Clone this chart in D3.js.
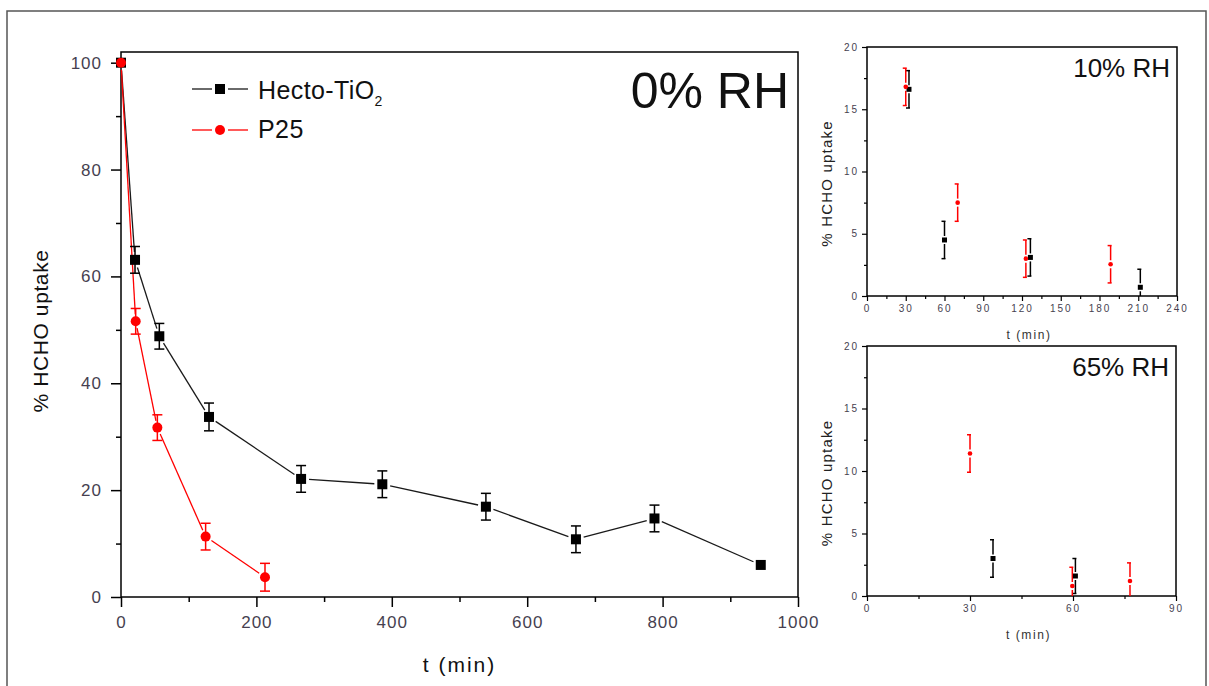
<!DOCTYPE html>
<html>
<head>
<meta charset="utf-8">
<script src="https://cdn.jsdelivr.net/npm/d3@7"></script>
<style>
  html, body { margin: 0; padding: 0; background: #fff; }
  svg { display: block; font-family: "Liberation Sans", Arial, sans-serif; }
</style>
</head>
<body>
<svg id="chart" width="1209" height="686"></svg>
<script>
// ---------- DATA ----------
// Main panel (0% RH)
const hectoX   = [0, 20.7, 56.6, 130, 266, 386, 539, 672, 788, 945];
const hectoY   = [100, 63.1, 48.8, 33.7, 22.1, 21.1, 16.9, 10.8, 14.7, 6.0];
const hectoErr = [0, 2.5, 2.4, 2.6, 2.5, 2.5, 2.5, 2.5, 2.5, 0];
const p25X     = [0, 21.7, 53.7, 125, 212.7];
const p25Y     = [100, 51.6, 31.7, 11.3, 3.7];
const p25Err   = [0, 2.4, 2.4, 2.5, 2.6];
const mainXTicks = [0, 200, 400, 600, 800, 1000];
const mainYTicks = [0, 20, 40, 60, 80, 100];

// Inset 10% RH
const h10X = [32.5, 60, 126.5, 211.6];
const h10Y = [16.6, 4.5, 3.1, 0.7];
const h10E = [1.5, 1.5, 1.5, 1.45];
const p10X = [30, 70.2, 123, 188.6];
const p10Y = [16.8, 7.5, 3.0, 2.55];
const p10E = [1.5, 1.5, 1.5, 1.5];
const in10XTicks = [0, 30, 60, 90, 120, 150, 180, 210, 240];

// Inset 65% RH
const h65X = [36.7, 60.7];
const h65Y = [3.0, 1.6];
const h65E = [1.5, 1.4];
const p65X = [30, 59.8, 76.6];
const p65Y = [11.4, 0.8, 1.2];
const p65E = [1.5, 1.5, 1.45];
const in65XTicks = [0, 30, 60, 90];
const insetYTicks = [0, 5, 10, 15, 20];

const RED = "#ff0000", BLACK = "#000000", TICKCOL = "#463f50";

const svg = d3.select("#chart");

// outer frame
svg.append("rect").attr("x", 7).attr("y", 11).attr("width", 1199).attr("height", 690)
  .attr("fill", "none").attr("stroke", "#555").attr("stroke-width", 1.5);

function zip(xs, ys, es) { return xs.map((x, i) => ({x, y: ys[i], e: es ? es[i] : 0})); }

function gapLines(g, pts, x, y, color, gap, width) {
  for (let i = 0; i < pts.length - 1; i++) {
    const x1 = x(pts[i].x), y1 = y(pts[i].y), x2 = x(pts[i+1].x), y2 = y(pts[i+1].y);
    const dx = x2 - x1, dy = y2 - y1, L = Math.hypot(dx, dy);
    const gg = Math.min(gap, L / 2.5);
    const ux = dx / L, uy = dy / L;
    g.append("line")
      .attr("x1", x1 + ux * gg).attr("y1", y1 + uy * gg)
      .attr("x2", x2 - ux * gg).attr("y2", y2 - uy * gg)
      .attr("stroke", color).attr("stroke-width", width);
  }
}

// ---------- MAIN PANEL ----------
const M = {l: 121, r: 798, t: 52, b: 597};
const mx = d3.scaleLinear().domain([0, 1000]).range([M.l, M.r]);
const my = d3.scaleLinear().domain([0, 102]).range([M.b, M.t]);
const main = svg.append("g");

// minor ticks
main.append("g").attr("transform", `translate(0,${M.b})`)
  .call(d3.axisBottom(mx).tickValues(d3.range(100, 1000, 200)).tickSize(5).tickFormat("").tickSizeOuter(0))
  .call(g => g.select(".domain").remove())
  .call(g => g.selectAll("line").attr("stroke-width", 1.5));
main.append("g").attr("transform", `translate(${M.l},0)`)
  .call(d3.axisLeft(my).tickValues(d3.range(10, 101, 20)).tickSize(5).tickFormat("").tickSizeOuter(0))
  .call(g => g.select(".domain").remove())
  .call(g => g.selectAll("line").attr("stroke-width", 1.5));
// major ticks
main.append("g").attr("transform", `translate(0,${M.b})`)
  .call(d3.axisBottom(mx).tickValues(mainXTicks).tickSize(10).tickPadding(9).tickFormat(d3.format("d")).tickSizeOuter(0))
  .call(g => g.select(".domain").remove())
  .call(g => g.selectAll("line").attr("stroke-width", 1.5))
  .call(g => g.selectAll("text").attr("font-size", 17).attr("fill", TICKCOL)
     .attr("font-family", "Liberation Sans, Arial, sans-serif").style("letter-spacing", "1px"));
main.append("g").attr("transform", `translate(${M.l},0)`)
  .call(d3.axisLeft(my).tickValues(mainYTicks).tickSize(10).tickPadding(9).tickFormat(d3.format("d")).tickSizeOuter(0))
  .call(g => g.select(".domain").remove())
  .call(g => g.selectAll("line").attr("stroke-width", 1.5))
  .call(g => g.selectAll("text").attr("font-size", 17).attr("fill", TICKCOL)
     .attr("font-family", "Liberation Sans, Arial, sans-serif").style("letter-spacing", "1px"));

main.append("rect").attr("x", M.l).attr("y", M.t).attr("width", M.r - M.l).attr("height", M.b - M.t)
  .attr("fill", "none").attr("stroke", "#000").attr("stroke-width", 1.5);

const hPts = zip(hectoX, hectoY, hectoErr);
const pPts = zip(p25X, p25Y, p25Err);

// lines
gapLines(main, hPts, mx, my, "#1a1a1a", 8, 1.3);
gapLines(main, pPts, mx, my, RED, 7, 1.3);

function mainErr(pts, color) {
  const g = main.append("g").attr("stroke", color).attr("stroke-width", 1.5);
  pts.filter(d => d.e > 0).forEach(d => {
    const cx = mx(d.x), yt = my(d.y + d.e), yb = my(d.y - d.e);
    g.append("line").attr("x1", cx).attr("x2", cx).attr("y1", yt).attr("y2", yb);
    g.append("line").attr("x1", cx - 5).attr("x2", cx + 5).attr("y1", yt).attr("y2", yt);
    g.append("line").attr("x1", cx - 5).attr("x2", cx + 5).attr("y1", yb).attr("y2", yb);
  });
}
mainErr(hPts, BLACK);
mainErr(pPts, RED);

main.selectAll(".hsq").data(hPts).join("rect")
  .attr("x", d => mx(d.x) - 5).attr("y", d => my(d.y) - 5).attr("width", 10).attr("height", 10)
  .attr("fill", BLACK);
main.selectAll(".pci").data(pPts).join("circle")
  .attr("cx", d => mx(d.x)).attr("cy", d => my(d.y)).attr("r", 5).attr("fill", RED);

// legend
const leg = main.append("g");
leg.append("line").attr("x1", 192).attr("x2", 212).attr("y1", 89).attr("y2", 89).attr("stroke", "#1a1a1a").attr("stroke-width", 1.3);
leg.append("line").attr("x1", 228).attr("x2", 248).attr("y1", 89).attr("y2", 89).attr("stroke", "#1a1a1a").attr("stroke-width", 1.3);
leg.append("rect").attr("x", 215).attr("y", 84).attr("width", 10).attr("height", 10).attr("fill", BLACK);
leg.append("line").attr("x1", 192).attr("x2", 212).attr("y1", 130).attr("y2", 130).attr("stroke", RED).attr("stroke-width", 1.3);
leg.append("line").attr("x1", 228).attr("x2", 248).attr("y1", 130).attr("y2", 130).attr("stroke", RED).attr("stroke-width", 1.3);
leg.append("circle").attr("cx", 220).attr("cy", 130).attr("r", 5).attr("fill", RED);
const t1 = leg.append("text").attr("x", 258).attr("y", 99).attr("font-size", 25).attr("fill", "#111")
  .style("letter-spacing", "0.4px");
t1.append("tspan").text("Hecto-TiO");
t1.append("tspan").attr("font-size", 14).attr("dy", 7).text("2");
leg.append("text").attr("x", 258).attr("y", 138).attr("font-size", 25).attr("fill", "#111")
  .style("letter-spacing", "0.4px").text("P25");

main.append("text").attr("x", 789).attr("y", 108).attr("text-anchor", "end")
  .attr("font-size", 50).attr("fill", "#111").text("0% RH");

main.append("text").attr("x", (M.l + M.r) / 2).attr("y", 672).attr("text-anchor", "middle")
  .attr("font-size", 21).attr("fill", "#111").style("letter-spacing", "2px").text("t (min)");
main.append("text").attr("transform", `translate(48,331) rotate(-90)`).attr("text-anchor", "middle")
  .attr("font-size", 21).attr("fill", "#111").style("letter-spacing", "0.6px").text("% HCHO uptake");

// ---------- INSETS ----------
function inset(cfg) {
  const {l, r, t, b, xmax, xTicks, minorX, hX, hY, hE, pX, pY, pE, title, id} = cfg;
  const x = d3.scaleLinear().domain([0, xmax]).range([l, r]);
  const y = d3.scaleLinear().domain([0, 20]).range([b, t]);
  const g = svg.append("g");
  const tickStyle = s => s.selectAll("text").attr("font-size", 10).attr("fill", TICKCOL)
      .attr("font-family", "Liberation Sans, Arial, sans-serif").style("letter-spacing", "2px");
  g.append("g").attr("transform", `translate(0,${b})`)
    .call(d3.axisBottom(x).tickValues(minorX).tickSize(3).tickFormat("").tickSizeOuter(0))
    .call(s => s.select(".domain").remove()).call(s => s.selectAll("line").attr("stroke-width", 1.2));
  g.append("g").attr("transform", `translate(${l},0)`)
    .call(d3.axisLeft(y).tickValues([2.5, 7.5, 12.5, 17.5]).tickSize(3).tickFormat("").tickSizeOuter(0))
    .call(s => s.select(".domain").remove()).call(s => s.selectAll("line").attr("stroke-width", 1.2));
  g.append("g").attr("transform", `translate(0,${b})`)
    .call(d3.axisBottom(x).tickValues(xTicks).tickSize(5).tickPadding(4).tickFormat(d3.format("d")).tickSizeOuter(0))
    .call(s => s.select(".domain").remove()).call(s => s.selectAll("line").attr("stroke-width", 1.2))
    .call(tickStyle);
  g.append("g").attr("transform", `translate(${l},0)`)
    .call(d3.axisLeft(y).tickValues(insetYTicks).tickSize(5).tickPadding(3).tickFormat(d3.format("d")).tickSizeOuter(0))
    .call(s => s.select(".domain").remove()).call(s => s.selectAll("line").attr("stroke-width", 1.2))
    .call(tickStyle);
  g.append("rect").attr("x", l).attr("y", t).attr("width", r - l).attr("height", b - t)
    .attr("fill", "none").attr("stroke", "#000").attr("stroke-width", 1.5);

  svg.append("clipPath").attr("id", id).append("rect")
    .attr("x", l).attr("y", t).attr("width", r - l).attr("height", b - t);
  const pg = g.append("g").attr("clip-path", `url(#${id})`);

  function errs(pts, color, cap) {
    const eg = pg.append("g").attr("stroke", color).attr("stroke-width", 1.5);
    pts.forEach(d => {
      const cx = x(d.x), cy = y(d.y), yt = y(d.y + d.e), yb = y(d.y - d.e);
      eg.append("line").attr("x1", cx).attr("x2", cx).attr("y1", yt).attr("y2", cy - 4);
      eg.append("line").attr("x1", cx).attr("x2", cx).attr("y1", cy + 4).attr("y2", yb);
      eg.append("line").attr("x1", cx - cap).attr("x2", cx + 1).attr("y1", yt).attr("y2", yt);
      eg.append("line").attr("x1", cx - cap).attr("x2", cx + 1).attr("y1", yb).attr("y2", yb);
    });
  }
  const hp = zip(hX, hY, hE), pp = zip(pX, pY, pE);
  errs(hp, BLACK, 3);
  errs(pp, RED, 3);
  pg.selectAll(".sq").data(hp).join("rect")
    .attr("x", d => x(d.x) - 2.5).attr("y", d => y(d.y) - 2.5).attr("width", 5).attr("height", 5).attr("fill", BLACK);
  pg.selectAll(".ci").data(pp).join("circle")
    .attr("cx", d => x(d.x)).attr("cy", d => y(d.y)).attr("r", 2.3).attr("fill", RED);

  g.append("text").attr("x", r - 7).attr("y", t + 30).attr("text-anchor", "end")
    .attr("font-size", 26).attr("fill", "#111").text(title);
  g.append("text").attr("x", (l + r) / 2 + 7).attr("y", b + 43).attr("text-anchor", "middle")
    .attr("font-size", 12).attr("fill", "#333").style("letter-spacing", "1.6px").text("t (min)");
  g.append("text").attr("transform", `translate(832,${(t + b) / 2 + 12}) rotate(-90)`).attr("text-anchor", "middle")
    .attr("font-size", 15).attr("fill", "#222").style("letter-spacing", "1.2px").text("% HCHO uptake");
}

inset({l: 867, r: 1177, t: 47, b: 296, xmax: 240, xTicks: in10XTicks, minorX: d3.range(15, 240, 30),
  hX: h10X, hY: h10Y, hE: h10E, pX: p10X, pY: p10Y, pE: p10E, title: "10% RH", id: "clip10"});
inset({l: 867, r: 1176, t: 346, b: 596, xmax: 90, xTicks: in65XTicks, minorX: [15, 45, 75],
  hX: h65X, hY: h65Y, hE: h65E, pX: p65X, pY: p65Y, pE: p65E, title: "65% RH", id: "clip65"});
</script>
</body>
</html>
